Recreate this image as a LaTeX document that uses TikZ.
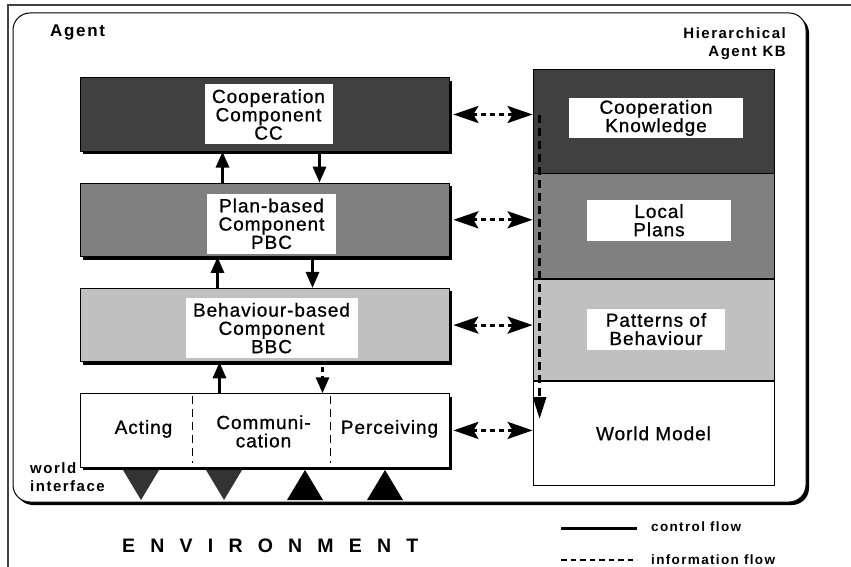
\documentclass[tikz,border=0pt]{standalone}
\usepackage{fontspec}
\setmainfont{Liberation Sans}
\newfontfamily\boxfont[LetterSpace=5, FakeBold=0.8]{Liberation Sans}
\newfontfamily\labfont[LetterSpace=10]{Liberation Sans}
\newfontfamily\envfont[LetterSpace=78]{Liberation Sans}
\usepackage{xcolor}
\usetikzlibrary{arrows.meta, positioning, calc, shadows}

\definecolor{darkgrey}{HTML}{404040}
\definecolor{midgrey}{HTML}{808080}
\definecolor{lightgrey}{HTML}{C0C0C0}

\begin{document}
\begin{tikzpicture}[
    x=1pt, y=-1pt,
    node distance=31pt,
    agentframe/.style={rectangle, draw, line width=1pt, rounded corners=17pt, fill=white, minimum width=793pt, minimum height=489pt, drop shadow={shadow xshift=3pt, shadow yshift=-3pt, fill=black, opacity=1}},
    layer/.style={rectangle, draw, line width=0.8pt, minimum width=369pt, minimum height=73.5pt, inner sep=0pt, drop shadow={shadow xshift=3pt, shadow yshift=-3pt, fill=black, opacity=1}},
    kb/.style={rectangle, draw, line width=0.8pt, minimum width=241pt, minimum height=104pt, inner sep=0pt},
    boxtext/.style={font=\boxfont\fontsize{19}{18.3}\selectfont, align=center},
    tag/.style={rectangle, fill=white, inner sep=0pt, boxtext},
    caption/.style={font=\labfont\bfseries\fontsize{15}{18}\selectfont, inner sep=0pt},
    ctrl/.style={line width=3pt, -{Triangle[length=16pt, width=13pt]}},
    info/.style={line width=3pt, dash pattern=on 5pt off 4pt},
    infotips/.style={{Stealth[length=25pt, width=17pt, inset=5pt]}-{Stealth[length=25pt, width=17pt, inset=5pt]}},
    sep/.style={line width=1pt, dash pattern=on 8pt off 5pt}
]
\useasboundingbox (0,0) rectangle (851,567);

% Page edge
\draw[line width=1.2pt, black!75] (851,5) -- (8,5) -- (8,567);

% Agent frame
\node[agentframe] (agent) at (409.5,257.5) {};
\node[caption, font=\labfont\bfseries\fontsize{17}{18}\selectfont, anchor=west] (agentlab) at (50,32) {Agent};
\node[caption, anchor=north east, align=right] (kblab) at (786,27) {Hierarchical\\Agent KB};
\node[caption, anchor=west, align=left] (wilab) at (30,477) {world\\interface};

% Component layers
\node[layer, fill=darkgrey] (cc) at (264.5,114.5) {};
\node[layer, fill=midgrey, below=of cc] (pbc) {};
\node[layer, fill=lightgrey, below=of pbc] (bbc) {};
\node[layer, fill=white, below=of bbc] (wi) {};

\node[tag, minimum width=128pt, minimum height=60pt] (cctag) at ([xshift=4pt]cc.center) {Cooperation\\Component\\CC};
\node[tag, minimum width=129pt, minimum height=60pt] (pbctag) at ([xshift=7pt, yshift=-4pt]pbc.center) {Plan-based\\Component\\PBC};
\node[tag, minimum width=172pt, minimum height=60pt] (bbctag) at ([xshift=7pt, yshift=-3pt]bbc.center) {Behaviour-based\\Component\\BBC};

% World interface parts
\node[boxtext] (acting) at ([xshift=-121pt, yshift=1.5pt]wi.center) {Acting};
\node[boxtext] (comm) at ([xshift=-1pt, yshift=-1pt]wi.center) {Communi-\\cation};
\node[boxtext] (perc) at ([xshift=125pt, yshift=1.5pt]wi.center) {Perceiving};
\draw[sep] ([xshift=113pt, yshift=-3pt]wi.north west) -- ([xshift=113pt, yshift=5pt]wi.south west);
\draw[sep] ([xshift=251pt, yshift=-3pt]wi.north west) -- ([xshift=251pt, yshift=5pt]wi.south west);

% Knowledge base
\node[kb, fill=darkgrey] (ck) at (653.5,121) {};
\node[kb, fill=midgrey, below=0pt of ck, minimum height=105pt] (lp) {};
\node[kb, fill=lightgrey, below=0pt of lp, minimum height=101pt] (pb) {};
\node[kb, fill=white, below=0pt of pb, boxtext] (wm) {World Model};

\node[tag, minimum width=174pt, minimum height=40pt] (cktag) at ([xshift=2.5pt, yshift=3pt]ck.center) {Cooperation\\Knowledge};
\node[tag, minimum width=144pt, minimum height=41pt] (lptag) at ([xshift=5.5pt, yshift=6pt]lp.center) {Local\\Plans};
\node[tag, minimum width=138pt, minimum height=41pt] (pbtag) at ([xshift=2.5pt, yshift=1pt]pb.center) {Patterns of\\Behaviour};

% Control flow between layers
\draw[ctrl] ([xshift=-42pt]pbc.north) -- ([xshift=-42pt]cc.south);
\draw[ctrl] ([xshift=55pt]cc.south) -- ([xshift=55pt]pbc.north);
\draw[ctrl] ([xshift=-47pt]bbc.north) -- ([xshift=-47pt]pbc.south);
\draw[ctrl] ([xshift=48pt]pbc.south) -- ([xshift=48pt]bbc.north);
\draw[ctrl] ([xshift=-45pt]wi.north) -- ([xshift=-45pt]bbc.south);
\draw[info, -{Triangle[length=16pt, width=13pt]}, shorten <=5pt] ([xshift=58pt]bbc.south) -- ([xshift=58pt]wi.north);

% Information flow to the KB
\draw[info, infotips] ([xshift=4pt]cc.east) -- (cc.east -| ck.west);
\draw[info, infotips] ([xshift=4pt]pbc.east) -- (pbc.east -| lp.west);
\draw[info, infotips] ([xshift=4pt]bbc.east) -- (bbc.east -| pb.west);
\draw[info, infotips] ([xshift=4pt]wi.east) -- (wi.east -| wm.west);

\coordinate (kbtop) at ([xshift=7pt, yshift=-46pt]ck.north west);
\coordinate (kbend) at ([xshift=7pt, yshift=-38pt]wm.north west);
\draw[info, dash pattern=on 8pt off 5pt, -{Triangle[length=22pt, width=13pt]}] (kbtop) -- (kbend);

% Ports to the environment
\fill[black!80] (123,470) -- (159,470) -- (141,500) -- cycle;
\fill[black!80] (206,470) -- (242,470) -- (224,500) -- cycle;
\fill[black] (287,500) -- (323,500) -- (305,470) -- cycle;
\fill[black] (367,500) -- (403,500) -- (385,470) -- cycle;

\node[anchor=west, inner sep=0pt, font=\envfont\bfseries\fontsize{19.5}{20}\selectfont] (env) at (122,546) {ENVIRONMENT};

% Legend
\node[caption, font=\labfont\bfseries\fontsize{13.5}{16}\selectfont, anchor=west] (ctrllab) at (651,527) {control flow};
\node[caption, font=\labfont\bfseries\fontsize{13.5}{16}\selectfont, anchor=west] (infolab) at (651,560) {information flow};
\coordinate (ctrlstart) at (561,528);
\coordinate (infostart) at (561,560);
\draw[line width=3pt, shorten >=14pt] (ctrlstart) -- (ctrlstart -| ctrllab.west);
\draw[line width=2.5pt, dash pattern=on 5.5pt off 4pt, shorten >=14pt] (infostart) -- (infostart -| infolab.west);

\end{tikzpicture}
\end{document}
